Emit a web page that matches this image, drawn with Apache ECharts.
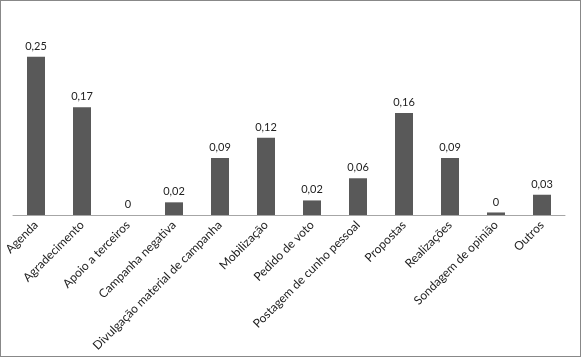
<!DOCTYPE html>
<html>
<head>
<meta charset="utf-8">
<script src="https://cdn.jsdelivr.net/npm/echarts@6/dist/echarts.min.js"></script>
<style>
html,body{margin:0;padding:0;background:#fff;}
#c{position:absolute;left:0;top:0;width:581px;height:357px;}
#b{position:absolute;left:0;top:0;width:581px;height:357px;box-sizing:border-box;border:1px solid #888;pointer-events:none;}
</style>
</head>
<body>
<div id="c"></div>
<div id="b"></div>
<script>
const categories = ["Agenda","Agradecimento","Apoio a terceiros","Campanha negativa","Divulgação material de campanha","Mobilização","Pedido de voto","Postagem de cunho pessoal","Propostas","Realizações","Sondagem de opinião","Outros"];
const values = [0.25, 0.17, 0, 0.02, 0.09, 0.122, 0.023, 0.058, 0.161, 0.09, 0.004, 0.032];

function fmt(v){
  let s = (Math.round(v*100)/100).toString();
  return s.replace('.', ',');
}

const chart = echarts.init(document.getElementById('c'), null, {renderer:'canvas'});
chart.setOption({
  animation:false,
  backgroundColor:'#fff',
  grid:{left:13,right:16,top:25,bottom:142,containLabel:false},
  xAxis:{
    type:'category',
    data:categories,
    axisLine:{lineStyle:{color:'#a6a6a6',width:1}},
    axisTick:{show:false},
    axisLabel:{rotate:45,interval:0,fontFamily:'Lato',fontSize:12,color:'#222',margin:8}
  },
  yAxis:{
    type:'value',min:0,max:0.3,show:false,splitLine:{show:false}
  },
  series:[{
    type:'bar',
    data:values,
    barWidth:18,
    itemStyle:{color:'#595959'},
    label:{show:true,position:'top',distance:5,fontFamily:'Lato',fontSize:11,color:'#222',formatter:p=>fmt(p.value)}
  }]
});
</script>
</body>
</html>
